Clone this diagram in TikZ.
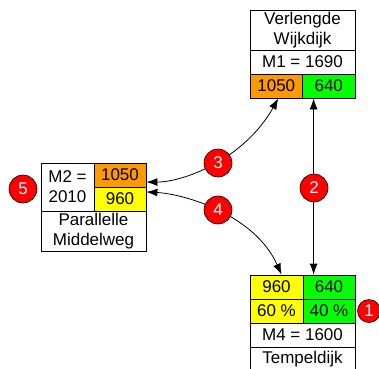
\documentclass[tikz,border=0pt]{standalone}
\usepackage{fontspec}
\setmainfont{Liberation Sans}
\usetikzlibrary{arrows.meta}
\definecolor{cellorange}{RGB}{255,153,0}
\definecolor{cellgreen}{RGB}{0,255,0}
\definecolor{cellyellow}{RGB}{255,255,0}
\tikzset{
  cell/.style = {draw, line width = 0.8pt, inner sep = 0pt, align = center, font = \fontsize{17}{20}\selectfont},
  half/.style = {cell, minimum width = 52.5pt, minimum height = 24pt},
  full/.style = {cell, minimum width = 105pt, minimum height = 24pt},
  num/.style = {circle, draw = black, line width = 0.6pt, fill = red, text = white, inner sep = 0pt, minimum size = 28pt, font = \fontsize{17}{20}\selectfont},
  link/.style = {line width = 0.8pt, {Latex[length = 11pt, width = 8pt]}-{Latex[length = 11pt, width = 8pt]}}
}

\begin{document}
\begin{tikzpicture}[x = 1pt, y = -1pt]
    \useasboundingbox (0, 0) rectangle (379, 368);
    \node (vwTitle) at (302.5, 30) [full, minimum height = 40pt] {Verlengde\\Wijkdijk};
    \node (vwM) at (302.5, 62) [full] {M1 = 1690};
    \node (vwA) at (276.25, 86) [half, fill = cellorange] {1050};
    \node (vwB) at (328.75, 86) [half, fill = cellgreen] {640};

    \node (pmM) at (67.5, 187) [cell, minimum width = 53pt, minimum height = 48pt] {M2 =\\2010};
    \node (pmA) at (120, 175) [half, minimum width = 52pt, fill = cellorange] {1050};
    \node (pmB) at (120, 199) [half, minimum width = 52pt, fill = cellyellow] {960};
    \node (pmTitle) at (93.5, 231) [full, minimum height = 40pt] {Parallelle\\Middelweg};

    \node (tdA) at (276.5, 287) [half, minimum width = 53pt, fill = cellyellow] {960};
    \node (tdB) at (329, 287) [half, minimum width = 52pt, fill = cellgreen] {640};
    \node (tdC) at (276.5, 311) [half, minimum width = 53pt, fill = cellyellow] {60 \%};
    \node (tdD) at (329, 311) [half, minimum width = 52pt, fill = cellgreen] {40 \%};
    \node (tdM) at (302.5, 335) [full] {M4 = 1600};
    \node (tdTitle) at (302.5, 359) [full] {Tempeldijk};

    \draw [link] ([xshift = 11.5pt] vwB.south west) -- ([xshift = 11pt] tdB.north west);
    \draw [link] (pmA.-15) .. controls (185, 182) and (245, 158) .. ([xshift = 2pt] vwA.south);
    \draw [link] (pmB.15) .. controls (185, 194) and (255, 215) .. ([xshift = 5pt] tdA.north);

    \node (n1) at (369, 311) [num, minimum size = 23pt] {1};
    \node (n2) at (314, 188) [num] {2};
    \node (n3) at (218, 163) [num] {3};
    \node (n4) at (218, 210) [num] {4};
    \node (n5) at (23, 189) [num] {5};
\end{tikzpicture}
\end{document}
